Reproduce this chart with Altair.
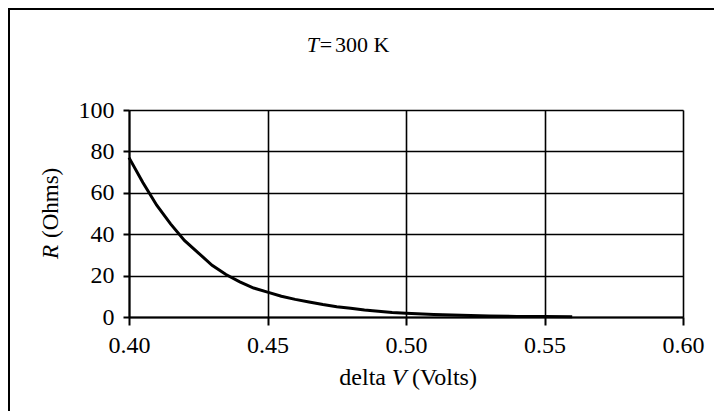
import altair as alt
import pandas as pd

# data
delta_v = [0.400, 0.405, 0.410, 0.415, 0.420, 0.425, 0.430, 0.435, 0.440, 0.445,
           0.450, 0.455, 0.460, 0.465, 0.470, 0.475, 0.480, 0.485, 0.490, 0.495,
           0.500, 0.510, 0.520, 0.530, 0.540, 0.550, 0.560]
r_ohms = [77, 65, 54, 45, 37, 31, 25, 20.5, 17, 14,
          12, 10, 8.5, 7.2, 6, 5, 4.2, 3.4, 2.8, 2.2,
          1.8, 1.2, 0.8, 0.5, 0.3, 0.2, 0.1]
x_ticks = [0.40, 0.45, 0.50, 0.55, 0.60]
y_ticks = [0, 20, 40, 60, 80, 100]

FONT = "Liberation Serif"
FS = 24
W, H = 554, 207
PL, PT = 121, 102

df = pd.DataFrame({"v": delta_v, "r": r_ohms})
one = pd.DataFrame({"a": [0]})

line = alt.Chart(df).mark_line(color="black", strokeWidth=3).encode(
    x=alt.X("v:Q", scale=alt.Scale(domain=[0.40, 0.60], nice=False),
            axis=alt.Axis(values=x_ticks, format=".2f", title=None,
                          labelFont=FONT, labelFontSize=FS, labelColor="black",
                          labelFlush=False, labelOverlap=False,
                          labelPadding=8, tickSize=8, tickWidth=2, tickColor="black",
                          domainColor="black", domainWidth=2,
                          grid=True, gridColor="black", gridWidth=1.6, gridOpacity=1)),
    y=alt.Y("r:Q", scale=alt.Scale(domain=[0, 100], nice=False),
            axis=alt.Axis(values=y_ticks, title=None,
                          labelFont=FONT, labelFontSize=FS, labelColor="black",
                          labelFlush=False, labelOverlap=False,
                          labelPadding=9, tickSize=6, tickWidth=2, tickColor="black",
                          domainColor="black", domainWidth=2,
                          grid=True, gridColor="black", gridWidth=1.4, gridOpacity=1)),
)

base1 = alt.Chart(one)

def txt(s, x, y, align="left", italic=False, angle=0, size=22):
    kw = dict(text=s, font=FONT, fontSize=size, color="black", align=align,
              baseline="alphabetic")
    if italic:
        kw["fontStyle"] = "italic"
    if angle:
        kw["angle"] = angle
    return base1.mark_text(**kw).encode(x=alt.value(x), y=alt.value(y))

# page coords -> plot coords: subtract (129, 110)
OX, OY = 129, 110
title_t = txt("T", 319 - OX, 52 - OY, align="right", italic=True)
title_eq = txt("=", 326 - OX, 52 - OY, align="center")
title_rest = txt("300 K", 335 - OX, 52 - OY, align="left")

xt1 = txt("delta", 386 - OX, 385 - OY, align="right", size=24)
xt2 = txt("V", 399 - OX, 385 - OY, align="center", italic=True, size=24)
xt3 = txt("(Volts)", 412 - OX, 385 - OY, align="left", size=24)

yt1 = txt("R", 58 - OX, 259 - OY, align="left", italic=True, angle=270, size=23)
yt2 = txt("(Ohms)", 58 - OX, 238 - OY, align="left", angle=270, size=23)

frame_top = base1.mark_rule(color="black", strokeWidth=2).encode(
    x=alt.value(-121), x2=alt.value(620), y=alt.value(-101))
frame_left = base1.mark_rule(color="black", strokeWidth=2).encode(
    x=alt.value(-120), y=alt.value(-102), y2=alt.value(330))

chart = alt.layer(
    line, title_t, title_eq, title_rest, xt1, xt2, xt3, yt1, yt2, frame_top, frame_left
).properties(
    width=W, height=H,
    autosize=alt.AutoSizeParams(type="none"),
    padding={"left": PL, "top": PT, "right": 31, "bottom": 94},
).configure_view(stroke="black", strokeWidth=2).configure(background="white")

chart.save("out.html", embed_options={"renderer": "svg", "actions": False})
